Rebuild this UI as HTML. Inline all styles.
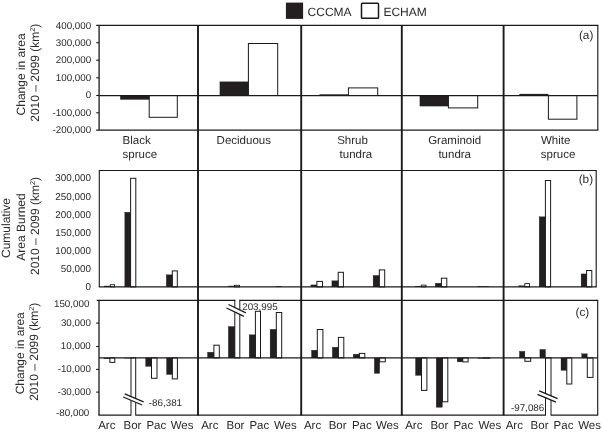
<!DOCTYPE html>
<html lang="en">
<head>
<meta charset="utf-8">
<title>Projected change in area and cumulative area burned, 2010 – 2099</title>
<style>
html,body{margin:0;padding:0;background:#fff;}
body{width:602px;height:434px;overflow:hidden;}
svg{display:block;filter:blur(0.35px);}
svg text{text-rendering:geometricPrecision;font-family:"Liberation Sans",Arial,Helvetica,sans-serif;fill:#2a2a2a;}
</style>
</head>
<body>
<svg width="602" height="434" viewBox="0 0 602 434">
<rect x="0" y="0" width="602" height="434" fill="#fff"/>
<rect x="285.90" y="2.60" width="17.20" height="16.30" fill="#231f20"/>
<text x="307.6" y="16.0" font-size="12" text-anchor="start">CCCMA</text>
<rect x="361.5" y="3.15" width="17.0" height="15.2" rx="0.8" fill="#fff" stroke="#1a1a1a" stroke-width="1.5"/>
<text x="383.4" y="16.0" font-size="12" text-anchor="start">ECHAM</text>
<rect x="149.20" y="95.50" width="28.10" height="21.80" fill="#fff" stroke="#1a1a1a" stroke-width="1.0"/>
<rect x="120.30" y="95.50" width="28.90" height="4.00" fill="#231f20" stroke="#231f20" stroke-width="0.3"/>
<rect x="248.40" y="43.50" width="29.30" height="52.00" fill="#fff" stroke="#1a1a1a" stroke-width="1.0"/>
<rect x="219.90" y="81.80" width="28.50" height="13.70" fill="#231f20" stroke="#231f20" stroke-width="0.3"/>
<rect x="348.40" y="87.90" width="29.30" height="7.60" fill="#fff" stroke="#1a1a1a" stroke-width="1.0"/>
<rect x="319.50" y="94.30" width="28.90" height="1.20" fill="#231f20"/>
<rect x="448.40" y="95.50" width="29.30" height="12.40" fill="#fff" stroke="#1a1a1a" stroke-width="1.0"/>
<rect x="419.90" y="95.50" width="28.50" height="10.60" fill="#231f20" stroke="#231f20" stroke-width="0.3"/>
<rect x="548.40" y="95.50" width="28.50" height="23.70" fill="#fff" stroke="#1a1a1a" stroke-width="1.0"/>
<rect x="519.30" y="93.90" width="29.10" height="1.60" fill="#231f20"/>
<rect x="130.60" y="178.30" width="5.20" height="108.60" fill="#fff" stroke="#1a1a1a" stroke-width="1.0"/>
<rect x="124.80" y="212.20" width="5.80" height="74.70" fill="#231f20" stroke="#231f20" stroke-width="0.3"/>
<rect x="172.30" y="270.90" width="5.00" height="16.00" fill="#fff" stroke="#1a1a1a" stroke-width="1.0"/>
<rect x="166.30" y="274.80" width="6.00" height="12.10" fill="#231f20" stroke="#231f20" stroke-width="0.3"/>
<rect x="316.90" y="281.40" width="5.60" height="5.50" fill="#fff" stroke="#1a1a1a" stroke-width="1.0"/>
<rect x="310.90" y="284.90" width="6.00" height="2.00" fill="#231f20" stroke="#231f20" stroke-width="0.3"/>
<rect x="338.20" y="272.30" width="5.20" height="14.60" fill="#fff" stroke="#1a1a1a" stroke-width="1.0"/>
<rect x="331.90" y="280.80" width="6.30" height="6.10" fill="#231f20" stroke="#231f20" stroke-width="0.3"/>
<rect x="379.30" y="269.90" width="5.40" height="17.00" fill="#fff" stroke="#1a1a1a" stroke-width="1.0"/>
<rect x="373.10" y="275.40" width="6.20" height="11.50" fill="#231f20" stroke="#231f20" stroke-width="0.3"/>
<rect x="441.40" y="278.20" width="5.40" height="8.70" fill="#fff" stroke="#1a1a1a" stroke-width="1.0"/>
<rect x="435.30" y="283.20" width="6.10" height="3.70" fill="#231f20" stroke="#231f20" stroke-width="0.3"/>
<rect x="545.40" y="180.50" width="5.20" height="106.40" fill="#fff" stroke="#1a1a1a" stroke-width="1.0"/>
<rect x="539.20" y="216.80" width="6.20" height="70.10" fill="#231f20" stroke="#231f20" stroke-width="0.3"/>
<rect x="586.60" y="270.50" width="5.20" height="16.40" fill="#fff" stroke="#1a1a1a" stroke-width="1.0"/>
<rect x="581.10" y="273.90" width="5.50" height="13.00" fill="#231f20" stroke="#231f20" stroke-width="0.3"/>
<rect x="110.30" y="284.70" width="4.30" height="2.20" fill="#fff" stroke="#1a1a1a" stroke-width="0.9"/>
<rect x="104.0" y="285.8" width="5.90" height="1.10" fill="#231f20"/>
<rect x="234.50" y="285.30" width="5.00" height="1.60" fill="#fff" stroke="#1a1a1a" stroke-width="0.9"/>
<rect x="228.3" y="285.8" width="5.80" height="1.10" fill="#231f20"/>
<rect x="275.5" y="286.1" width="6.00" height="0.80" fill="#231f20"/>
<rect x="421.20" y="285.10" width="4.80" height="1.80" fill="#fff" stroke="#1a1a1a" stroke-width="0.9"/>
<rect x="414.9" y="286.1" width="5.90" height="0.80" fill="#231f20"/>
<rect x="477.3" y="286.15" width="11.40" height="0.75" fill="#231f20"/>
<rect x="524.80" y="283.60" width="4.80" height="3.30" fill="#fff" stroke="#1a1a1a" stroke-width="0.9"/>
<rect x="518.5" y="285.5" width="5.90" height="1.40" fill="#231f20"/>
<rect x="109.90" y="357.90" width="4.90" height="4.50" fill="#fff" stroke="#1a1a1a" stroke-width="1.0"/>
<rect x="103.80" y="357.90" width="6.10" height="1.00" fill="#231f20"/>
<rect x="131.00" y="357.90" width="4.70" height="60.10" fill="#fff" stroke="#1a1a1a" stroke-width="1.0"/>
<rect x="124.70" y="357.90" width="6.30" height="0.50" fill="#231f20"/>
<rect x="151.50" y="357.90" width="5.50" height="20.40" fill="#fff" stroke="#1a1a1a" stroke-width="1.0"/>
<rect x="145.60" y="357.90" width="5.90" height="8.50" fill="#231f20" stroke="#231f20" stroke-width="0.3"/>
<rect x="172.30" y="357.90" width="5.10" height="21.00" fill="#fff" stroke="#1a1a1a" stroke-width="1.0"/>
<rect x="166.50" y="357.90" width="5.80" height="16.60" fill="#231f20" stroke="#231f20" stroke-width="0.3"/>
<rect x="213.90" y="345.20" width="5.40" height="12.70" fill="#fff" stroke="#1a1a1a" stroke-width="1.0"/>
<rect x="207.50" y="352.20" width="6.40" height="5.70" fill="#231f20" stroke="#231f20" stroke-width="0.3"/>
<rect x="234.80" y="297.35" width="5.00" height="60.55" fill="#fff" stroke="#1a1a1a" stroke-width="1.0"/>
<rect x="228.30" y="326.50" width="6.50" height="31.40" fill="#231f20" stroke="#231f20" stroke-width="0.3"/>
<rect x="255.40" y="311.30" width="5.10" height="46.60" fill="#fff" stroke="#1a1a1a" stroke-width="1.0"/>
<rect x="249.20" y="334.80" width="6.20" height="23.10" fill="#231f20" stroke="#231f20" stroke-width="0.3"/>
<rect x="276.30" y="312.50" width="5.40" height="45.40" fill="#fff" stroke="#1a1a1a" stroke-width="1.0"/>
<rect x="270.10" y="329.30" width="6.20" height="28.60" fill="#231f20" stroke="#231f20" stroke-width="0.3"/>
<rect x="317.30" y="329.50" width="5.60" height="28.40" fill="#fff" stroke="#1a1a1a" stroke-width="1.0"/>
<rect x="311.50" y="350.20" width="5.80" height="7.70" fill="#231f20" stroke="#231f20" stroke-width="0.3"/>
<rect x="338.40" y="337.40" width="5.40" height="20.50" fill="#fff" stroke="#1a1a1a" stroke-width="1.0"/>
<rect x="332.30" y="347.20" width="6.10" height="10.70" fill="#231f20" stroke="#231f20" stroke-width="0.3"/>
<rect x="359.40" y="353.40" width="5.40" height="4.50" fill="#fff" stroke="#1a1a1a" stroke-width="1.0"/>
<rect x="353.20" y="354.20" width="6.20" height="3.70" fill="#231f20" stroke="#231f20" stroke-width="0.3"/>
<rect x="379.70" y="357.90" width="5.60" height="3.90" fill="#fff" stroke="#1a1a1a" stroke-width="1.0"/>
<rect x="374.30" y="357.90" width="5.40" height="15.50" fill="#231f20" stroke="#231f20" stroke-width="0.3"/>
<rect x="421.50" y="357.90" width="5.40" height="32.50" fill="#fff" stroke="#1a1a1a" stroke-width="1.0"/>
<rect x="415.50" y="357.90" width="6.00" height="17.50" fill="#231f20" stroke="#231f20" stroke-width="0.3"/>
<rect x="442.40" y="357.90" width="5.40" height="43.90" fill="#fff" stroke="#1a1a1a" stroke-width="1.0"/>
<rect x="436.20" y="357.90" width="6.20" height="49.40" fill="#231f20" stroke="#231f20" stroke-width="0.3"/>
<rect x="462.80" y="357.90" width="5.30" height="4.00" fill="#fff" stroke="#1a1a1a" stroke-width="1.0"/>
<rect x="457.20" y="357.90" width="5.60" height="4.00" fill="#231f20" stroke="#231f20" stroke-width="0.3"/>
<rect x="483.50" y="357.90" width="6.20" height="0.30" fill="#fff" stroke="#1a1a1a" stroke-width="1.0"/>
<rect x="477.70" y="357.90" width="5.80" height="0.70" fill="#231f20"/>
<rect x="524.90" y="357.90" width="5.80" height="3.40" fill="#fff" stroke="#1a1a1a" stroke-width="1.0"/>
<rect x="519.40" y="351.30" width="5.50" height="6.60" fill="#231f20" stroke="#231f20" stroke-width="0.3"/>
<rect x="545.50" y="357.90" width="5.50" height="60.10" fill="#fff" stroke="#1a1a1a" stroke-width="1.0"/>
<rect x="539.90" y="349.40" width="5.60" height="8.50" fill="#231f20" stroke="#231f20" stroke-width="0.3"/>
<rect x="566.80" y="357.90" width="5.00" height="26.10" fill="#fff" stroke="#1a1a1a" stroke-width="1.0"/>
<rect x="561.00" y="357.90" width="5.80" height="12.50" fill="#231f20" stroke="#231f20" stroke-width="0.3"/>
<rect x="587.30" y="357.90" width="5.70" height="19.50" fill="#fff" stroke="#1a1a1a" stroke-width="1.0"/>
<rect x="581.70" y="353.80" width="5.60" height="4.10" fill="#231f20" stroke="#231f20" stroke-width="0.3"/>
<rect x="120" y="415.6" width="20" height="4" fill="#fff"/>
<rect x="535" y="415.6" width="20" height="4" fill="#fff"/>
<rect x="230" y="295.75" width="14" height="4" fill="#fff"/>
<line x1="96.19999999999999" y1="25.35" x2="598.3" y2="25.35" stroke="#1a1a1a" stroke-width="1.25"/>
<line x1="99.1" y1="95.5" x2="597.8" y2="95.5" stroke="#1a1a1a" stroke-width="1.25"/>
<line x1="96.19999999999999" y1="130.0" x2="598.3" y2="130.0" stroke="#1a1a1a" stroke-width="1.25"/>
<line x1="99.1" y1="25.35" x2="99.1" y2="130.0" stroke="#1a1a1a" stroke-width="1.3"/>
<line x1="597.8" y1="25.35" x2="597.8" y2="130.0" stroke="#1a1a1a" stroke-width="1.15"/>
<line x1="96.19999999999999" y1="42.7" x2="99.1" y2="42.7" stroke="#1a1a1a" stroke-width="1.1"/>
<line x1="96.19999999999999" y1="60.2" x2="99.1" y2="60.2" stroke="#1a1a1a" stroke-width="1.1"/>
<line x1="96.19999999999999" y1="77.8" x2="99.1" y2="77.8" stroke="#1a1a1a" stroke-width="1.1"/>
<line x1="96.19999999999999" y1="112.8" x2="99.1" y2="112.8" stroke="#1a1a1a" stroke-width="1.1"/>
<line x1="96.19999999999999" y1="95.5" x2="99.1" y2="95.5" stroke="#1a1a1a" stroke-width="1.1"/>
<line x1="98.8" y1="170.55" x2="596.7" y2="170.55" stroke="#1a1a1a" stroke-width="1.1"/>
<line x1="98.8" y1="286.9" x2="596.7" y2="286.9" stroke="#1a1a1a" stroke-width="1.25"/>
<line x1="99.3" y1="170.55" x2="99.3" y2="286.9" stroke="#1a1a1a" stroke-width="1.1"/>
<line x1="596.2" y1="170.55" x2="596.2" y2="286.9" stroke="#1a1a1a" stroke-width="1.15"/>
<line x1="96.8" y1="300.35" x2="235.3" y2="300.35" stroke="#1a1a1a" stroke-width="1.25"/>
<line x1="239.7" y1="300.35" x2="598.2" y2="300.35" stroke="#1a1a1a" stroke-width="1.25"/>
<line x1="99.0" y1="357.9" x2="597.7" y2="357.9" stroke="#1a1a1a" stroke-width="1.25"/>
<line x1="98.4" y1="415.0" x2="131.0" y2="415.0" stroke="#1a1a1a" stroke-width="1.25"/>
<line x1="135.7" y1="415.0" x2="545.5" y2="415.0" stroke="#1a1a1a" stroke-width="1.25"/>
<line x1="551.0" y1="415.0" x2="598.2" y2="415.0" stroke="#1a1a1a" stroke-width="1.25"/>
<line x1="99.0" y1="300.35" x2="99.0" y2="415.0" stroke="#1a1a1a" stroke-width="1.3"/>
<line x1="597.7" y1="300.35" x2="597.7" y2="415.0" stroke="#1a1a1a" stroke-width="1.15"/>
<line x1="96.1" y1="323.1" x2="99.0" y2="323.1" stroke="#1a1a1a" stroke-width="1.1"/>
<line x1="96.1" y1="346.5" x2="99.0" y2="346.5" stroke="#1a1a1a" stroke-width="1.1"/>
<line x1="96.1" y1="369.4" x2="99.0" y2="369.4" stroke="#1a1a1a" stroke-width="1.1"/>
<line x1="96.1" y1="392.1" x2="99.0" y2="392.1" stroke="#1a1a1a" stroke-width="1.1"/>
<line x1="198.0" y1="25.35" x2="198.0" y2="415.4" stroke="#1a1a1a" stroke-width="1.9"/>
<line x1="301.2" y1="25.35" x2="301.2" y2="415.4" stroke="#1a1a1a" stroke-width="1.9"/>
<line x1="401.8" y1="25.35" x2="401.8" y2="415.4" stroke="#1a1a1a" stroke-width="1.9"/>
<line x1="503.6" y1="25.35" x2="503.6" y2="415.4" stroke="#1a1a1a" stroke-width="1.9"/>
<polygon points="124.7,393.8 143.6,401.8 142.1,405.0 123.2,397.0" fill="#fff"/>
<line x1="124.7" y1="393.8" x2="143.6" y2="401.8" stroke="#1a1a1a" stroke-width="1.3"/>
<line x1="123.2" y1="397.0" x2="142.1" y2="405.0" stroke="#1a1a1a" stroke-width="1.3"/>
<polygon points="228.5,304.5 245.9,312.9 243.9,316.4 226.5,308.0" fill="#fff"/>
<line x1="228.5" y1="304.5" x2="245.9" y2="312.9" stroke="#1a1a1a" stroke-width="1.3"/>
<line x1="226.5" y1="308.0" x2="243.9" y2="316.4" stroke="#1a1a1a" stroke-width="1.3"/>
<polygon points="539.2,390.9 557.6,398.7 556.0,402.2 537.6,394.4" fill="#fff"/>
<line x1="539.2" y1="390.9" x2="557.6" y2="398.7" stroke="#1a1a1a" stroke-width="1.3"/>
<line x1="537.6" y1="394.4" x2="556.0" y2="402.2" stroke="#1a1a1a" stroke-width="1.3"/>
<text x="91.2" y="28.5" font-size="9.8" text-anchor="end">400,000</text>
<text x="91.2" y="45.9" font-size="9.8" text-anchor="end">300,000</text>
<text x="91.2" y="63.4" font-size="9.8" text-anchor="end">200,000</text>
<text x="91.2" y="80.8" font-size="9.8" text-anchor="end">100,000</text>
<text x="91.2" y="98.2" font-size="9.8" text-anchor="end">0</text>
<text x="91.2" y="115.7" font-size="9.8" text-anchor="end">-100,000</text>
<text x="91.2" y="133.1" font-size="9.8" text-anchor="end">-200,000</text>
<text x="90.9" y="181.4" font-size="9.9" text-anchor="end">300,000</text>
<text x="90.9" y="199.5" font-size="9.9" text-anchor="end">250,000</text>
<text x="90.9" y="217.5" font-size="9.9" text-anchor="end">200,000</text>
<text x="90.9" y="235.6" font-size="9.9" text-anchor="end">150,000</text>
<text x="90.9" y="253.6" font-size="9.9" text-anchor="end">100,000</text>
<text x="90.9" y="271.6" font-size="9.9" text-anchor="end">50,000</text>
<text x="90.9" y="289.7" font-size="9.9" text-anchor="end">0</text>
<text x="89.4" y="306.5" font-size="9.8" text-anchor="end">150,000</text>
<text x="90.9" y="326.0" font-size="9.8" text-anchor="end">30,000</text>
<text x="90.8" y="349.3" font-size="9.8" text-anchor="end">10,000</text>
<text x="90.9" y="371.9" font-size="9.8" text-anchor="end">-10,000</text>
<text x="90.9" y="395.0" font-size="9.8" text-anchor="end">-30,000</text>
<text x="89.3" y="416.2" font-size="9.8" text-anchor="end">-80,000</text>
<text x="122.6" y="143.6" font-size="11.5" text-anchor="start">Black</text>
<text x="122.6" y="157.5" font-size="11.5" text-anchor="start">spruce</text>
<text x="216.6" y="143.8" font-size="11.5" text-anchor="start">Deciduous</text>
<text x="337.2" y="143.8" font-size="11.5" text-anchor="start">Shrub</text>
<text x="339.6" y="157.6" font-size="11.5" text-anchor="start">tundra</text>
<text x="454.7" y="143.8" font-size="11.5" text-anchor="middle">Graminoid</text>
<text x="454.7" y="157.6" font-size="11.5" text-anchor="middle">tundra</text>
<text x="541.0" y="143.7" font-size="11.5" text-anchor="start">White</text>
<text x="540.8" y="157.7" font-size="11.5" text-anchor="start">spruce</text>
<text x="578.9" y="39.0" font-size="11.8" text-anchor="start">(a)</text>
<text x="578.7" y="183.4" font-size="11.8" text-anchor="start">(b)</text>
<text x="575.5" y="316.3" font-size="11.8" text-anchor="start">(c)</text>
<text x="98.2" y="429.2" font-size="11.5" text-anchor="start">Arc</text>
<text x="123.5" y="429.2" font-size="11.5" text-anchor="start">Bor</text>
<text x="146.4" y="429.2" font-size="11.5" text-anchor="start">Pac</text>
<text x="170.7" y="429.2" font-size="11.5" text-anchor="start">Wes</text>
<text x="201.2" y="429.2" font-size="11.5" text-anchor="start">Arc</text>
<text x="226.5" y="429.2" font-size="11.5" text-anchor="start">Bor</text>
<text x="249.4" y="429.2" font-size="11.5" text-anchor="start">Pac</text>
<text x="273.9" y="429.2" font-size="11.5" text-anchor="start">Wes</text>
<text x="303.9" y="429.2" font-size="11.5" text-anchor="start">Arc</text>
<text x="328.7" y="429.2" font-size="11.5" text-anchor="start">Bor</text>
<text x="351.9" y="429.2" font-size="11.5" text-anchor="start">Pac</text>
<text x="375.9" y="429.2" font-size="11.5" text-anchor="start">Wes</text>
<text x="405.2" y="429.2" font-size="11.5" text-anchor="start">Arc</text>
<text x="430.4" y="429.2" font-size="11.5" text-anchor="start">Bor</text>
<text x="453.4" y="429.2" font-size="11.5" text-anchor="start">Pac</text>
<text x="478.4" y="429.2" font-size="11.5" text-anchor="start">Wes</text>
<text x="505.7" y="429.2" font-size="11.5" text-anchor="start">Arc</text>
<text x="530.6" y="429.2" font-size="11.5" text-anchor="start">Bor</text>
<text x="553.6" y="429.2" font-size="11.5" text-anchor="start">Pac</text>
<text x="578.2" y="429.2" font-size="11.5" text-anchor="start">Wes</text>
<text x="148.8" y="405.8" font-size="9.8" text-anchor="start">-86,381</text>
<text x="242.2" y="310.3" font-size="9.8" text-anchor="start">203,995</text>
<text x="511.0" y="411.3" font-size="9.8" text-anchor="start">-97,086</text>
<text transform="translate(24.6,74.4) rotate(-90)" font-size="12" text-anchor="middle">Change in area</text>
<text transform="translate(38.9,72.7) rotate(-90)" font-size="12" text-anchor="middle">2010 – 2099 (km<tspan font-size="7.2" dy="-4.2">2</tspan><tspan dy="4.2">)</tspan></text>
<text transform="translate(10.3,228.0) rotate(-90)" font-size="12" text-anchor="middle">Cumulative</text>
<text transform="translate(24.6,227.0) rotate(-90)" font-size="12" text-anchor="middle">Area Burned</text>
<text transform="translate(38.9,226.0) rotate(-90)" font-size="12" text-anchor="middle">2010 – 2099 (km<tspan font-size="7.2" dy="-4.2">2</tspan><tspan dy="4.2">)</tspan></text>
<text transform="translate(23.9,353.3) rotate(-90)" font-size="12" text-anchor="middle">Change in area</text>
<text transform="translate(38.2,351.8) rotate(-90)" font-size="12" text-anchor="middle">2010 – 2099 (km<tspan font-size="7.2" dy="-4.2">2</tspan><tspan dy="4.2">)</tspan></text>
</svg>
</body>
</html>
